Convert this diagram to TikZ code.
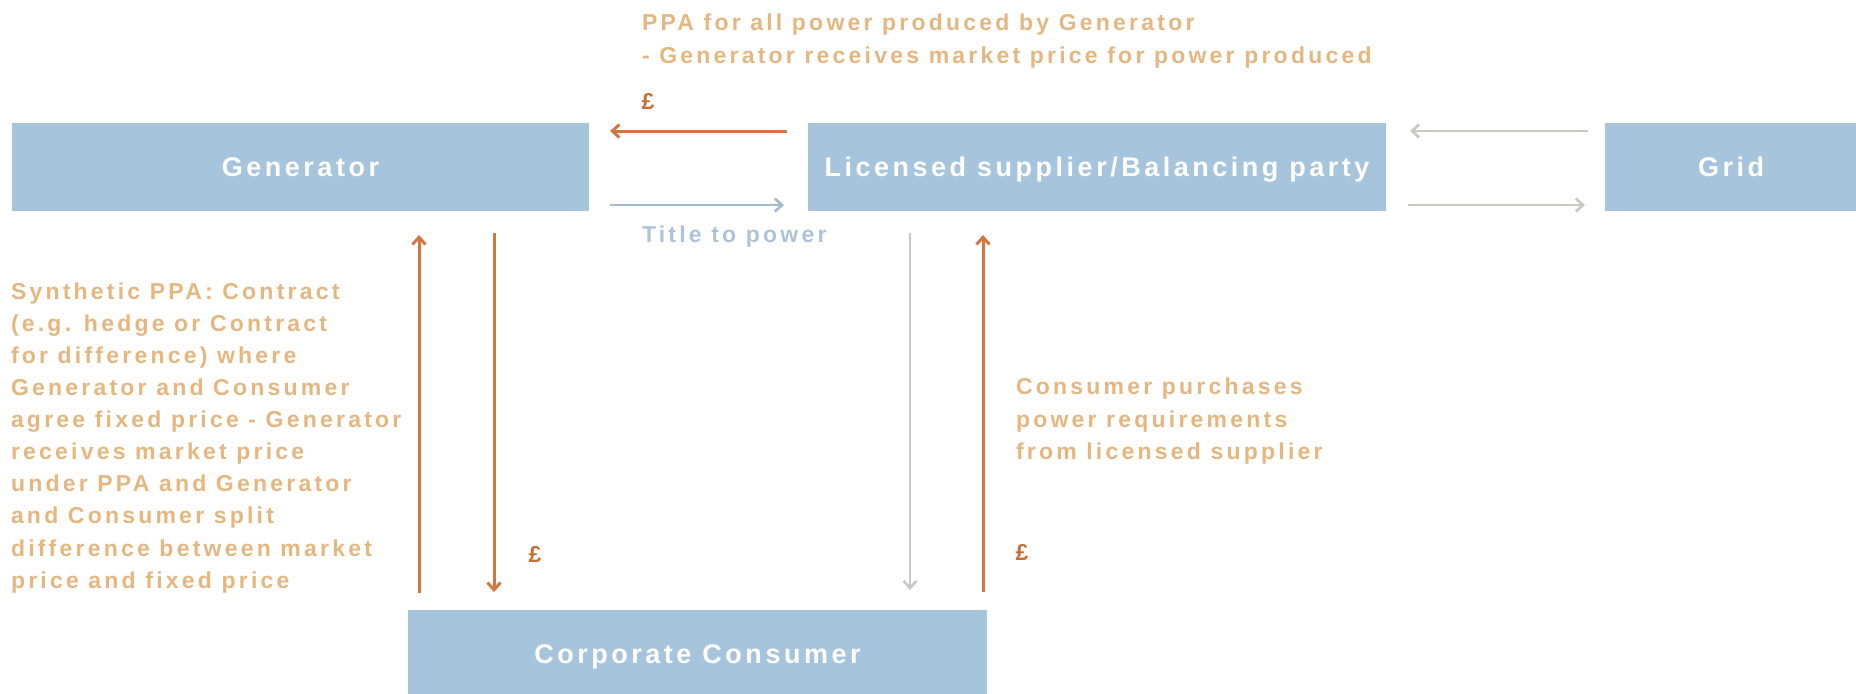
\documentclass[tikz,border=0pt]{standalone}
\usepackage{fontspec}
\setmainfont{Liberation Sans}
\newfontfamily\trackedfont[LetterSpace=13]{Liberation Sans}
\newfontfamily\notefont[LetterSpace=14]{Liberation Sans}
\usetikzlibrary{arrows.meta,calc}

\definecolor{boxblue}{HTML}{A7C4DD}
\definecolor{notetan}{HTML}{E6B680}
\definecolor{moneyline}{HTML}{D3773F}
\definecolor{moneysign}{HTML}{C86E35}
\definecolor{titleblue}{HTML}{AFC3D8}
\definecolor{titleline}{HTML}{A6BBD1}
\definecolor{gridgrey}{HTML}{C9C9C1}

\tikzset{
  party/.style={rectangle, fill=boxblue, draw=none, inner sep=0pt, outer sep=0pt,
    minimum height=44pt, text=white, text height=9.7pt, text depth=0pt,
    font=\trackedfont\bfseries\fontsize{13.5pt}{15pt}\selectfont},
  note/.style={inner sep=0pt, outer sep=0pt, align=left, text=notetan,
    font=\notefont\bfseries\fontsize{11.5pt}{16.05pt}\selectfont},
  titlenote/.style={note, text=titleblue},
  pound/.style={inner sep=0pt, text=moneysign, font=\bfseries\fontsize{11.5pt}{14pt}\selectfont},
  flow/.style={line width=1.5pt, -{Straight Barb[length=3.6pt,width=6.5pt]}},
  money/.style={flow, draw=moneyline},
  title/.style={flow, draw=titleline, line width=1.35pt},
  power/.style={flow, draw=gridgrey, line width=1.35pt},
}

\begin{document}
\begin{tikzpicture}[x=0.5pt, y=-0.5pt]
  \clip (0,0) rectangle (1856,693);

  % parties
  \node[party, minimum width=288.5pt] (gen)  at (300.5,167) {Generator};
  \node[party, minimum width=289pt]   (lic)  at (1097,167)  {Licensed supplier/Balancing party};
  \node[party, minimum width=126pt]   (grid) at (1731,167)  {Grid};
  \node[party, minimum width=289.5pt] (cons) at (697.5,654) {Corporate Consumer};

  % generator <-> licensed supplier
  \draw[money] ($(lic.north west)+(-21,8)$) -- ($(gen.north east)+(21,8)$);
  \draw[title] ($(gen.south east)+(21,-6)$) -- ($(lic.south west)+(-24,-6)$);

  % licensed supplier <-> grid
  \draw[power] ($(grid.north west)+(-17,8)$) -- ($(lic.north east)+(24,8)$);
  \draw[power] ($(lic.south east)+(22,-6)$) -- ($(grid.south west)+(-20,-6)$);

  % generator <-> consumer (synthetic PPA)
  \draw[money] ($(cons.north west)+(11,-17)$) -- ($(cons.north west |- gen.south)+(11,24)$);
  \draw[money] ($(cons.north west |- gen.south)+(86,22)$) -- ($(cons.north west)+(86,-18)$);

  % licensed supplier <-> consumer
  \draw[power] ($(cons.north west |- lic.south)+(502,22)$) -- ($(cons.north west)+(502,-20)$);
  \draw[money] ($(cons.north west)+(575,-18)$) -- ($(cons.north west |- lic.south)+(575,24)$);

  % labels
  \node[note, anchor=north west] (ppa) at (642,8.5)
    {\strut PPA for all power produced by Generator\\- Generator receives market price for power produced};
  \node[pound] (p1) at (648,101) {£};
  \node[titlenote, anchor=base west] (ttp) at (642,242.7) {Title to power};

  \node[note, anchor=north west] (synth) at (11,276.8)
    {\strut Synthetic PPA: Contract\\(e.g. hedge or Contract\\for difference) where\\Generator and Consumer\\agree fixed price - Generator\\receives market price\\under PPA and Generator\\and Consumer split\\difference between market\\price and fixed price};
  \node[pound] (p2) at (535,554) {£};

  \node[note, anchor=north west] (buy) at (1016,372.5)
    {\strut Consumer purchases\\power requirements\\from licensed supplier};
  \node[pound] (p3) at (1022,552) {£};
\end{tikzpicture}
\end{document}
